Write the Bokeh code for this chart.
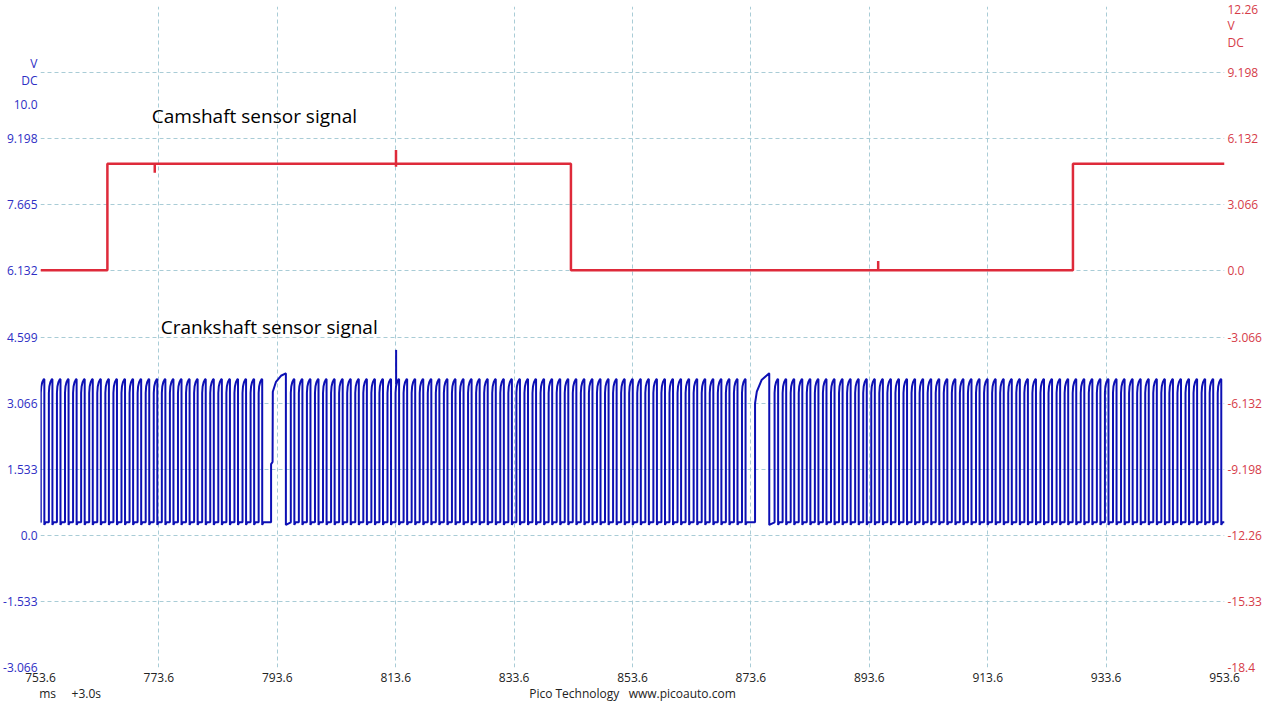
from bokeh.plotting import figure
from bokeh.models import Range1d, LinearAxis, FixedTicker, Label
from bokeh.embed import file_html
from bokeh.resources import INLINE

# ---------------- data ----------------
# time axis (ms, +3.0 s offset)
x_ticks = [753.6, 773.6, 793.6, 813.6, 833.6, 853.6, 873.6, 893.6, 913.6, 933.6, 953.6]
x_tick_labels = ["753.6", "773.6", "793.6", "813.6", "833.6", "853.6", "873.6", "893.6", "913.6", "933.6", "953.6"]
NB = "\u00a0"
footer_positions = [758.6, 853.6]
footer_texts = ["ms" + NB * 5 + "+3.0s", "Pico Technology" + NB * 3 + "www.picoauto.com"]

# left axis (crankshaft channel, V DC)
left_grid = [-3.066, -1.533, 0.0, 1.533, 3.066, 4.599, 6.132, 7.665, 9.198, 10.731, 12.264]
left_tick_values = [-3.066, -1.533, 0.0, 1.533, 3.066, 4.599, 6.132, 7.665, 9.198, 10.0, 10.54, 10.95]
left_tick_labels = ["-3.066", "-1.533", "0.0", "1.533", "3.066", "4.599", "6.132", "7.665", "9.198", "10.0", "DC", "V"]

# right axis (camshaft channel, V DC)
right_tick_values = [-18.396, -15.33, -12.264, -9.198, -6.132, -3.066, 0.0, 3.066, 6.132, 9.198, 10.61, 11.39, 12.264]
right_tick_labels = ["-18.4", "-15.33", "-12.26", "-9.198", "-6.132", "-3.066", "0.0", "3.066", "6.132", "9.198", "DC", "V", "12.26"]

# camshaft sensor signal (right axis)
cam_time = [753.6, 764.9, 764.9, 772.9, 772.9, 772.9, 813.65, 813.65, 813.65, 813.65,
            843.2, 843.2, 895.1, 895.1, 895.1, 928.0, 928.0, 953.6]
cam_volts = [0.03, 0.03, 4.965, 4.965, 4.55, 4.965, 4.965, 5.61, 4.83, 4.965,
             4.965, 0.03, 0.03, 0.46, 0.03, 0.03, 4.965, 4.965]

# crankshaft sensor signal (left axis): runs of regular teeth between the missing-tooth gaps
crank_run_first_rise = [753.65, 795.88, 877.6]
crank_run_teeth = [28, 57, 56]
crank_run_period = [1.363, 1.361, 1.361]
# shape of one regular tooth: time after rising edge (ms) and voltage
tooth_dt = [0.0, 0.0, 0.08, 0.25, 0.5, 0.6, 0.6, 0.7, 0.8]
tooth_v = [0.30, 3.30, 3.45, 3.55, 3.62, 3.62, 0.24, 0.27, 0.30]
# long teeth at the reference (gap) positions
long_tooth_time = [[792.55, 792.55, 792.8, 792.84, 793.38, 794.22, 794.95, 795.05, 795.05],
                   [874.3, 874.3, 874.6, 875.4, 876.65, 876.7, 876.7]]
long_tooth_volts = [[0.30, 1.65, 1.70, 3.33, 3.56, 3.70, 3.75, 3.75, 0.24],
                    [0.30, 3.06, 3.33, 3.60, 3.75, 3.75, 0.24]]
crank_spike_time = [813.67]
crank_spike_volts = [4.30]

# ---------------- build crank trace ----------------
crank_t = [753.6]
crank_v = [0.30]
for i, (first, n, per) in enumerate(zip(crank_run_first_rise, crank_run_teeth, crank_run_period)):
    for k in range(n):
        r = first + k * per
        for dt, vv in zip(tooth_dt, tooth_v):
            crank_t.append(r + dt)
            crank_v.append(vv)
    if i < len(long_tooth_time):
        crank_t.extend(long_tooth_time[i])
        crank_v.extend(long_tooth_volts[i])
crank_t.append(953.6)
crank_v.append(0.30)

# ---------------- figure ----------------
FONT = "Open Sans"
GRID = "#a9ccd6"
RED = "#de2a3a"
BLUE = "#0d10b4"

p = figure(width=1264, height=704, output_backend="svg", toolbar_location=None,
           x_range=Range1d(753.6, 953.6), y_range=Range1d(-3.066, 12.264))
p.extra_y_ranges = {"right": Range1d(-18.396, 12.264)}
p.outline_line_color = None
p.background_fill_color = "white"
p.border_fill_color = "white"
p.min_border_top = 6
p.min_border_left = 0
p.min_border_right = 0
p.min_border_bottom = 0

# grids
p.xgrid.ticker = FixedTicker(ticks=x_ticks)
p.ygrid.ticker = FixedTicker(ticks=left_grid)
for g in (p.xgrid, p.ygrid):
    g.grid_line_color = GRID
    g.grid_line_dash = "4 3"
    g.grid_line_width = 1


def style_axis(ax, color, standoff):
    ax.axis_line_color = None
    ax.major_tick_line_color = None
    ax.minor_tick_line_color = None
    ax.major_tick_out = 0
    ax.major_tick_in = 0
    ax.minor_tick_out = 0
    ax.minor_tick_in = 0
    ax.major_label_text_font = FONT
    ax.major_label_text_font_size = "12px"
    ax.major_label_text_color = color
    ax.major_label_standoff = standoff


# x axis
xa = p.xaxis[0]
xa.ticker = FixedTicker(ticks=x_ticks)
xa.major_label_overrides = {v: s for v, s in zip(x_ticks, x_tick_labels)}
style_axis(xa, "#222222", 5)

# footer line as a second, tick-less axis below
fa = LinearAxis()
fa.ticker = FixedTicker(ticks=footer_positions)
fa.major_label_overrides = {v: s for v, s in zip(footer_positions, footer_texts)}
style_axis(fa, "#222222", 0)
p.add_layout(fa, "below")

# left y axis
ya = p.yaxis[0]
ya.ticker = FixedTicker(ticks=left_tick_values)
ya.major_label_overrides = {v: s for v, s in zip(left_tick_values, left_tick_labels)}
style_axis(ya, "#2e2ec4", 3)

# right y axis
ra = LinearAxis(y_range_name="right")
ra.ticker = FixedTicker(ticks=right_tick_values)
ra.major_label_overrides = {v: s for v, s in zip(right_tick_values, right_tick_labels)}
style_axis(ra, "#d63c48", 3)
p.add_layout(ra, "right")

# traces
p.line(crank_t, crank_v, line_color=BLUE, line_width=2)
p.segment(x0=crank_spike_time, y0=[3.5], x1=crank_spike_time, y1=crank_spike_volts,
          line_color=BLUE, line_width=2)
p.line(cam_time, cam_volts, line_color=RED, line_width=2.5, y_range_name="right")

# annotations
p.add_layout(Label(x=772.4, y=9.736, text="Camshaft sensor signal", text_font=FONT,
                   text_font_size="19px", text_color="black", text_baseline="middle", text_align="left"))
p.add_layout(Label(x=773.9, y=4.84, text="Crankshaft sensor signal", text_font=FONT,
                   text_font_size="19px", text_color="black", text_baseline="middle", text_align="left"))

open("out.html", "w").write(file_html(p, INLINE))
